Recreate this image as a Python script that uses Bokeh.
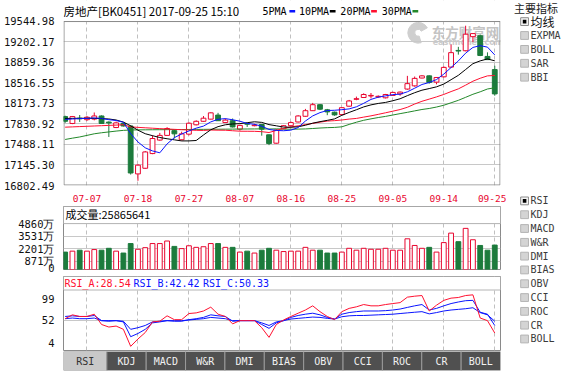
import numpy as np
from bokeh.plotting import figure
from bokeh.models import Range1d, FixedTicker, Label, ColumnDataSource, Span, PrintfTickFormatter
from bokeh.layouts import column, row
from bokeh.embed import file_html
from bokeh.resources import INLINE
from bokeh.core.properties import value

# ---------------- data ----------------
dates = ["07-04", "07-05", "07-06", "07-07", "07-10", "07-11", "07-12", "07-13", "07-14", "07-17",
         "07-18", "07-19", "07-20", "07-21", "07-24", "07-25", "07-26", "07-27", "07-28", "07-31",
         "08-01", "08-02", "08-03", "08-04", "08-07", "08-08", "08-09", "08-10", "08-11", "08-14",
         "08-15", "08-16", "08-17", "08-18", "08-21", "08-22", "08-23", "08-24", "08-25", "08-28",
         "08-29", "08-30", "08-31", "09-01", "09-04", "09-05", "09-06", "09-07", "09-08", "09-11",
         "09-12", "09-13", "09-14", "09-15", "09-18", "09-19", "09-20", "09-21", "09-22", "09-25"]
date_ticks = ["07-07", "07-18", "07-27", "08-07", "08-16", "08-25", "09-05", "09-14", "09-25"]

open_ = [17952, 17837, 17925, 17900, 17910, 17962, 17860, 17769, 17837, 17795,
         16996, 17090, 17335, 17560, 17638, 17717, 17565, 17659, 17815, 17873,
         17909, 17977, 17852, 17883, 17742, 17831, 17800, 17820, 17648, 17508,
         17748, 17800, 17862, 17957, 18050, 18150, 18065, 18025, 17985, 18125,
         18240, 18270, 18295, 18280, 18265, 18305, 18330, 18411, 18464, 18595,
         18631, 18526, 18615, 18777, 19055, 19050, 19285, 19300, 18955, 18736]
high = [17967, 17962, 17978, 17962, 18020, 17972, 17873, 17868, 17857, 17805,
        17158, 17378, 17638, 17680, 17775, 17733, 17700, 17857, 17889, 17961,
        18025, 18014, 17920, 17920, 17815, 17846, 17831, 17826, 17653, 17742,
        17810, 17870, 17975, 18080, 18180, 18160, 18080, 18035, 18110, 18230,
        18285, 18340, 18345, 18305, 18330, 18365, 18370, 18631, 18620, 18645,
        18640, 18610, 18790, 19153, 19115, 19467, 19345, 19320, 19023, 18800]
low = [17847, 17826, 17863, 17880, 17889, 17832, 17612, 17760, 17785, 16985,
       16881, 17080, 17325, 17550, 17630, 17586, 17555, 17638, 17805, 17868,
       17905, 17878, 17848, 17770, 17716, 17779, 17790, 17633, 17476, 17500,
       17740, 17795, 17855, 17950, 18045, 18060, 17975, 17965, 17978, 18118,
       18225, 18262, 18255, 18265, 18255, 18298, 18300, 18400, 18450, 18590,
       18500, 18490, 18605, 18770, 18985, 19040, 19195, 18960, 18895, 18300]
close = [17873, 17952, 17915, 17941, 17962, 17837, 17845, 17847, 17795, 17011,
         17142, 17362, 17586, 17638, 17753, 17664, 17664, 17841, 17873, 17925,
         18014, 17883, 17893, 17779, 17805, 17826, 17810, 17742, 17502, 17727,
         17800, 17852, 17962, 18050, 18150, 18075, 18030, 17980, 18100, 18213,
         18250, 18320, 18305, 18290, 18320, 18355, 18360, 18501, 18589, 18631,
         18520, 18604, 18772, 19018, 19045, 19326, 19336, 18971, 18902, 18330]

ma5 = [17905, 17912, 17918, 17922, 17929, 17921, 17900, 17886, 17857, 17667,
       17528, 17431, 17379, 17348, 17496, 17601, 17661, 17712, 17759, 17793,
       17863, 17907, 17918, 17899, 17875, 17837, 17823, 17792, 17737, 17721,
       17716, 17725, 17769, 17878, 17963, 18018, 18053, 18057, 18067, 18080,
       18115, 18173, 18238, 18276, 18297, 18318, 18326, 18365, 18425, 18487,
       18520, 18569, 18660, 18770, 18880, 19010, 19105, 19135, 19110, 18980]
ma10 = [17920, 17922, 17924, 17924, 17922, 17918, 17912, 17895, 17860, 17798,
        17725, 17666, 17633, 17603, 17582, 17564, 17546, 17546, 17553, 17645,
        17732, 17784, 17815, 17829, 17834, 17850, 17865, 17855, 17818, 17798,
        17777, 17774, 17781, 17808, 17842, 17867, 17889, 17913, 17973, 18021,
        18066, 18113, 18147, 18171, 18188, 18216, 18249, 18301, 18350, 18392,
        18419, 18448, 18494, 18567, 18640, 18737, 18834, 18881, 18913, 18882]
ma20 = [17775, 17780, 17785, 17790, 17795, 17800, 17805, 17810, 17816, 17780,
        17772, 17765, 17758, 17751, 17745, 17739, 17733, 17728, 17723, 17721,
        17728, 17725, 17724, 17716, 17708, 17707, 17706, 17700, 17686, 17721,
        17754, 17779, 17798, 17818, 17838, 17859, 17877, 17884, 17895, 17910,
        17921, 17943, 17964, 17989, 18015, 18042, 18069, 18107, 18161, 18207,
        18243, 18280, 18321, 18369, 18414, 18476, 18542, 18591, 18631, 18637]
ma30 = [17570, 17592, 17612, 17638, 17665, 17682, 17696, 17710, 17722, 17728,
        17730, 17731, 17732, 17733, 17734, 17735, 17736, 17737, 17738, 17739,
        17740, 17741, 17742, 17743, 17744, 17745, 17746, 17747, 17745, 17747,
        17744, 17741, 17743, 17746, 17753, 17761, 17767, 17771, 17781, 17821,
        17858, 17890, 17914, 17936, 17955, 17978, 18001, 18023, 18047, 18070,
        18087, 18111, 18141, 18182, 18223, 18273, 18324, 18365, 18412, 18432]

volume = [1843, 1943, 2044, 1943, 2110, 2044, 2245, 1943, 1742, 2747,
          2144, 2312, 2747, 2747, 3015, 2446, 2211, 2513, 2345, 2412,
          2747, 2747, 2345, 2345, 1843, 1943, 1742, 2044, 2245, 2044,
          1900, 1943, 1943, 2345, 2044, 2044, 1742, 1742, 1843, 2245,
          2044, 2245, 2144, 2144, 2245, 2044, 2044, 3250, 2546, 2245,
          2345, 1843, 2848, 3853, 2948, 4355, 3149, 2546, 2044, 2587]

rsi_a = [55.0, 62.1, 59.1, 59.1, 63.3, 44.3, 39.6, 41.4, 35.4, 4.0,
         17.6, 29.5, 49.1, 50.3, 60.3, 53.2, 53.2, 64.5, 65.7, 69.2,
         76.3, 63.3, 59.1, 45.5, 51.4, 51.4, 51.4, 38.4, 20.6, 44.3,
         52.6, 59.1, 65.1, 71.0, 78.7, 68.0, 59.1, 53.2, 68.0, 74.0,
         76.9, 81.1, 78.7, 78.7, 81.1, 82.9, 84.6, 94.7, 96.5, 97.7,
         69.2, 79.9, 88.8, 92.9, 94.1, 97.7, 99.0, 56.2, 51.4, 28.54]
rsi_b = [59.1, 60.3, 59.1, 59.1, 60.9, 51.4, 50.3, 51.4, 49.1, 21.8,
         27.7, 35.4, 47.3, 49.1, 51.4, 50.3, 50.3, 53.2, 55.0, 57.4,
         62.1, 60.3, 59.1, 50.3, 51.4, 51.4, 51.4, 44.3, 37.2, 47.3,
         51.4, 57.4, 60.9, 63.3, 65.1, 62.1, 57.4, 54.4, 63.3, 66.3,
         68.0, 69.2, 69.2, 69.2, 69.8, 71.0, 72.8, 75.8, 78.7, 81.1,
         71.0, 74.0, 78.7, 82.9, 85.8, 88.2, 88.8, 66.9, 63.3, 42.42]
rsi_c = [55.0, 56.2, 55.0, 55.0, 56.2, 51.4, 51.4, 51.4, 50.3, 35.4,
         38.4, 42.5, 49.1, 50.3, 51.4, 51.4, 51.4, 52.6, 53.8, 55.0,
         57.4, 56.2, 55.0, 51.4, 51.4, 51.4, 51.4, 47.3, 42.5, 49.1,
         51.4, 54.4, 55.6, 56.8, 58.0, 57.4, 55.6, 54.4, 58.6, 60.3,
         60.9, 60.9, 61.5, 62.1, 62.7, 63.3, 64.5, 65.7, 66.9, 68.0,
         63.9, 66.3, 69.2, 71.0, 72.2, 73.4, 75.2, 66.3, 62.1, 50.33]

price_ticks = [16802.49, 17145.30, 17488.11, 17830.92, 18173.73, 18516.55, 18859.36, 19202.17, 19544.98]
vol_ticks = [0, 871, 2201, 3531, 4860]
vol_tick_labels = ["0", "871万", "2201万", "3531万", "4860万"]
rsi_tick_labels = ["4", "52", "99"]

title_text = "房地产[BK0451] 2017-09-25 15:10"
ma_names = ["5PMA", "10PMA", "20PMA", "30PMA"]
volume_header = "成交量:25865641"
rsi_header = ["RSI_A:28.54", "RSI_B:42.42", "RSI_C:50.33"]
main_header = "主要指标"
main_indicators = ["均线", "EXPMA", "BOLL", "SAR", "BBI"]
sub_indicators = ["RSI", "KDJ", "MACD", "W&R", "DMI", "BIAS", "OBV", "CCI", "ROC", "CR", "BOLL"]
watermark = ["东方财富网", "eastmoney.com"]

# ---------------- styles / layout ----------------
RED = "#e8062f"
GREEN = "#1c7b3c"
BLUE = "#0a14ff"
LINE_RED = "#ff1030"
LINE_GREEN = "#23882a"
HGRID = "#c8c8c8"
VGRID = "#c0c0c0"
FRAME = "#8a8a8a"
MONO = "DejaVu Sans Mono"
CJK = "Noto Sans CJK SC"
MA_COLORS = [BLUE, "#000000", LINE_RED, LINE_GREEN]

SX = 562 / 578
SY = 373 / 389
LEFT_W = 506
RIGHT_W = 562 - LEFT_W
BL, BR = 58, 6
FW = LEFT_W - BL - BR
A_H, A_TOP, A_BOT = 204, 0, 15
A_HEAD = 21                      # title strip height inside the main frame
B_H, B_TOP, B_BOT = 69, 2, 4
C_H, C_TOP, C_BOT = 78, 3, 1
D_H, D_TOP, D_BOT = 22, 0, 3

STEP = 7.565                     # reference px per trading day
X0 = -0.225
X1 = X0 + 454 / STEP

n = len(close)
xs = list(range(n))
tick_pos = [dates.index(d) for d in date_ticks]


def fx(xr):
    """reference page x -> frame pixel x of the left column"""
    return (xr - 60) * SX


def base_fig(h, top, bot, yr, xaxis):
    p = figure(width=LEFT_W, height=h, x_range=Range1d(X0, X1), y_range=yr,
               output_backend="svg", toolbar_location=None, tools="",
               x_axis_location="below" if xaxis else None,
               min_border_left=BL, min_border_right=BR,
               min_border_top=top, min_border_bottom=bot)
    fh = h - top - bot
    p.extra_x_ranges = {"px": Range1d(0, FW)}
    p.extra_y_ranges = {"px": Range1d(0, fh)}
    p.outline_line_color = FRAME
    p.border_fill_color = "white"
    p.background_fill_color = "white"
    p.xgrid.ticker = FixedTicker(ticks=tick_pos)
    p.xgrid.grid_line_color = VGRID
    p.xgrid.grid_line_dash = "4 3"
    p.ygrid.grid_line_color = HGRID
    ax = p.yaxis[0]
    ax.axis_line_color = None
    ax.major_tick_line_color = None
    ax.minor_tick_line_color = None
    ax.major_label_standoff = 3
    ax.major_label_text_font = MONO
    ax.major_label_text_font_size = "10.5px"
    ax.major_label_text_color = "#111111"
    return p, fh


inc = [i for i in xs if close[i] >= open_[i]]
dec = [i for i in xs if close[i] < open_[i]]


def candle_src(ids):
    return ColumnDataSource(dict(
        x=ids,
        h=[high[i] for i in ids], l=[low[i] for i in ids],
        t=[max(open_[i], close[i]) for i in ids], b=[min(open_[i], close[i]) for i in ids],
        v=[volume[i] for i in ids]))


s_inc, s_dec = candle_src(inc), candle_src(dec)

# ---------------- main price chart ----------------
data_h = A_H - A_TOP - A_BOT - A_HEAD
p_lo, p_hi = price_ticks[0], price_ticks[-1]
p_top = p_hi + (p_hi - p_lo) * A_HEAD / data_h
A, A_fh = base_fig(A_H, A_TOP, A_BOT, Range1d(p_lo, p_top), True)
A.outline_line_color = None


def ay(yr):
    return (196.7 - yr) * SY


A.ygrid.ticker = FixedTicker(ticks=price_ticks)
A.yaxis.ticker = FixedTicker(ticks=price_ticks)
A.yaxis.formatter = PrintfTickFormatter(format="%.2f")
xa = A.xaxis[0]
xa.ticker = FixedTicker(ticks=tick_pos)
xa.major_label_overrides = {p: d for p, d in zip(tick_pos, date_ticks)}
xa.axis_line_color = None
xa.major_tick_line_color = None
xa.minor_tick_line_color = None
xa.major_label_standoff = 3
xa.major_label_text_font = MONO
xa.major_label_text_font_size = "9.5px"
xa.major_label_text_color = RED

# watermark
A.annular_wedge(x=[fx(429)], y=[ay(34)], inner_radius=3.5, outer_radius=10.5,
                start_angle=0.5, end_angle=5.0, color="#cfcfcf",
                x_range_name="px", y_range_name="px", level="underlay")
A.text(x=[fx(443)], y=[ay(33)], text=[watermark[0]], x_range_name="px", y_range_name="px",
       text_font=value(CJK), text_font_size="13.5px", text_font_style="bold",
       text_color="#c4c4c4", text_baseline="middle", level="underlay")
A.text(x=[fx(444)], y=[ay(44.5)], text=[watermark[1]], x_range_name="px", y_range_name="px",
       text_font=value("DejaVu Sans"), text_font_size="8px", text_font_style="bold",
       text_color="#cccccc", text_baseline="middle", level="underlay")

# title strip: white cover over the grid, then the panel border
A.quad(left=[X0], right=[X1], bottom=[p_hi], top=[p_top], fill_color="white", line_color=None)
A.quad(left=[0.5], right=[FW - 0.5], bottom=[0.5], top=[data_h - 0.5],
       x_range_name="px", y_range_name="px", fill_color=None, line_color=FRAME, line_width=1)

# candles
A.segment(x0="x", y0="l", x1="x", y1="h", source=s_inc, line_color=RED, line_width=1)
A.segment(x0="x", y0="l", x1="x", y1="h", source=s_dec, line_color=GREEN, line_width=1)
A.vbar(x="x", width=0.66, top="t", bottom="b", source=s_inc,
       fill_color="white", line_color=RED, line_width=1)
A.vbar(x="x", width=0.66, top="t", bottom="b", source=s_dec,
       fill_color=GREEN, line_color=GREEN, line_width=1)

# moving averages
for ser, col in zip([ma30, ma20, ma10, ma5], MA_COLORS[::-1]):
    A.line(xs, ser, line_color=col, line_width=1)

# title + legend
ty = ay(11)
A.text(x=[0], y=[ty], text=[title_text], x_range_name="px", y_range_name="px",
       text_font=value(CJK), text_font_size="11.5px", text_baseline="middle", text_color="#000000")
leg_x = [fx(v) for v in [267, 305, 348, 391]]
dash_x = [fx(v) for v in [295, 337, 380, 423]]
A.text(x=leg_x, y=[ty] * len(ma_names), text=ma_names, x_range_name="px", y_range_name="px",
       text_font=value(MONO), text_font_size="10px", text_baseline="middle", text_color="#000000")
A.segment(x0=dash_x, x1=[d + 6 * SX for d in dash_x], y0=[ty] * 4, y1=[ty] * 4,
          x_range_name="px", y_range_name="px", line_color=MA_COLORS, line_width=2.5)

# ---------------- volume ----------------
vol_top = vol_ticks[-1] * 66.3 / 48.3
B, B_fh = base_fig(B_H, B_TOP, B_BOT, Range1d(0, vol_top), False)
B.ygrid.ticker = FixedTicker(ticks=vol_ticks[1:])
B.yaxis.ticker = FixedTicker(ticks=vol_ticks)
B.yaxis.major_label_overrides = dict(zip(vol_ticks, vol_tick_labels))
B.quad(left=[X0], right=[X1], bottom=[vol_ticks[-1]], top=[vol_top], fill_color="white", line_color=None)
B.add_layout(Span(location=vol_ticks[-1], dimension="width", line_color="#b4b4b4", line_width=1))
B.vbar(x="x", width=0.66, top="v", bottom=0, source=s_inc, fill_color="white", line_color=RED, line_width=1)
B.vbar(x="x", width=0.66, top="v", bottom=0, source=s_dec, fill_color=GREEN, line_color=GREEN, line_width=1)
B.add_layout(Label(x=fx(62), y=(281.3 - 223.5) * SY, x_range_name="px", y_range_name="px",
                   text=volume_header, text_font=CJK, text_font_size="11px",
                   text_baseline="middle", text_color="#000000"))

# ---------------- RSI ----------------
rsi_lo, rsi_hi, rsi_head = -3.65, 132.8, 107.9
C, C_fh = base_fig(C_H, C_TOP, C_BOT, Range1d(rsi_lo, rsi_hi), False)
C.ygrid.ticker = FixedTicker(ticks=[52])
rsi_label_pos = [11, 52, 91]
C.yaxis.ticker = FixedTicker(ticks=rsi_label_pos)
C.yaxis.major_label_overrides = dict(zip(rsi_label_pos, rsi_tick_labels))
C.quad(left=[X0], right=[X1], bottom=[rsi_head], top=[rsi_hi], fill_color="white", line_color=None)
C.add_layout(Span(location=rsi_head, dimension="width", line_color="#b4b4b4", line_width=1))
C.line(xs, rsi_c, line_color=BLUE, line_width=1)
C.line(xs, rsi_b, line_color=BLUE, line_width=1)
C.line(xs, rsi_a, line_color=LINE_RED, line_width=1)
for txt, lx, col in zip(rsi_header, [61, 132.7, 205], [LINE_RED, BLUE, BLUE]):
    C.add_layout(Label(x=fx(lx), y=(365 - 295.5) * SY, x_range_name="px", y_range_name="px",
                       text=txt, text_font=MONO, text_font_size="10px",
                       text_baseline="middle", text_color=col))

# ---------------- indicator tabs ----------------
D = figure(width=LEFT_W, height=D_H, x_range=Range1d(0, 454), y_range=Range1d(0, 1),
           output_backend="svg", toolbar_location=None, tools="",
           x_axis_location=None, y_axis_location=None,
           min_border_left=BL, min_border_right=BR, min_border_top=D_TOP, min_border_bottom=D_BOT)
D.grid.visible = False
D.outline_line_color = None
first_w = 45
rest_w = (454 - first_w) / (len(sub_indicators) - 1)
widths = [first_w] + [rest_w] * (len(sub_indicators) - 1)
lefts = list(np.cumsum([0] + widths[:-1]))
rights = [l + w for l, w in zip(lefts, widths)]
D.quad(left=lefts, right=rights, bottom=0, top=1,
       fill_color=["#c8c8c8"] + ["#505050"] * (len(sub_indicators) - 1),
       line_color="#9a9a9a", line_width=1)
D.text(x=[(l + r) / 2 for l, r in zip(lefts, rights)], y=[0.5] * len(sub_indicators),
       text=sub_indicators, text_align="center", text_baseline="middle",
       text_font=value(MONO), text_font_size="10px",
       text_color=["#333333"] + ["#f2f2f2"] * (len(sub_indicators) - 1))

# ---------------- right side panel ----------------
E = figure(width=RIGHT_W, height=373, x_range=Range1d(0, RIGHT_W), y_range=Range1d(373, 0),
           output_backend="svg", toolbar_location=None, tools="",
           x_axis_location=None, y_axis_location=None,
           min_border_left=0, min_border_right=0, min_border_top=0, min_border_bottom=0)
E.grid.visible = False
E.outline_line_color = None


def ex(xr):
    return xr * SX - LEFT_W


g1_y = [(22 + 14.5 * k) * SY for k in range(len(main_indicators))]
g2_y = [(209 + 14.4 * k) * SY for k in range(len(sub_indicators))]
all_y = g1_y + g2_y
all_names = main_indicators + sub_indicators
checked = [k == 0 for k in range(len(main_indicators))] + [k == 0 for k in range(len(sub_indicators))]
cb_fill = ["#f4f4f4" if c else "#d4d4d4" for c in checked]
cb_line = ["#8c8c8c" if c else "#b4b4b4" for c in checked]
E.rect(x=[ex(539)] * len(all_y), y=all_y, width=7.8, height=7.8,
       fill_color=cb_fill, line_color=cb_line, line_width=1)
E.rect(x=[ex(539)] * sum(checked), y=[y for y, c in zip(all_y, checked) if c],
       width=3.6, height=3.6, fill_color="#000000", line_color=None)
E.text(x=[ex(528)], y=[8 * SY], text=[main_header], text_font=value(CJK), text_font_size="11px",
       text_baseline="middle", text_color="#222222")
cjk_idx = [k for k, s in enumerate(all_names) if not s.isascii()]
asc_idx = [k for k, s in enumerate(all_names) if s.isascii()]
E.text(x=[ex(545)] * len(cjk_idx), y=[all_y[k] for k in cjk_idx], text=[all_names[k] for k in cjk_idx],
       text_font=value(CJK), text_font_size="12px", text_baseline="middle", text_color="#111111")
E.text(x=[ex(545)] * len(asc_idx), y=[all_y[k] for k in asc_idx], text=[all_names[k] for k in asc_idx],
       text_font=value(MONO), text_font_size="10px", text_baseline="middle", text_color="#3a3a3a")

layout = row(column(A, B, C, D), E)
open("out.html", "w").write(file_html(layout, INLINE, "chart"))
